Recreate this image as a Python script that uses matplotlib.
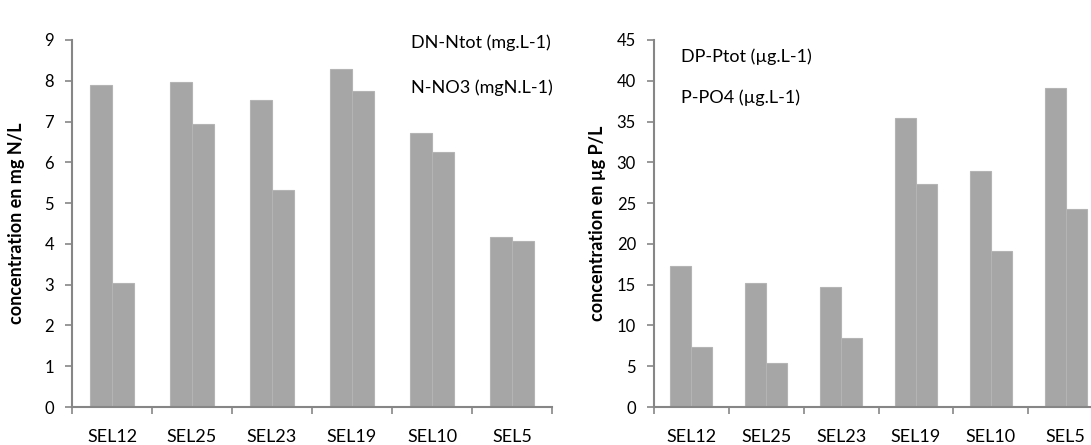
import matplotlib
matplotlib.use("Agg")
import matplotlib.pyplot as plt
import numpy as np

plt.rcParams['font.family'] = ['Lato', 'DejaVu Sans']

sites = ['SEL12', 'SEL25', 'SEL23', 'SEL19', 'SEL10', 'SEL5']

# nitrogen panel (mg/L)
dn_ntot = [7.9, 7.97, 7.53, 8.28, 6.71, 4.17]
n_no3 = [3.05, 6.93, 5.33, 7.75, 6.26, 4.06]

# phosphorus panel (ug/L)
dp_ptot = [17.3, 15.2, 14.7, 35.4, 28.95, 39.1]
p_po4 = [7.4, 5.4, 8.4, 27.3, 19.1, 24.3]

n_ticks = [0, 1, 2, 3, 4, 5, 6, 7, 8, 9]
p_ticks = [0, 5, 10, 15, 20, 25, 30, 35, 40, 45]

bar_col = '#a6a6a6'
axis_col = '#868686'

fig = plt.figure(figsize=(10.91, 4.45), dpi=100)
ax1 = fig.add_axes([72 / 1091, 38 / 445, 480 / 1091, 367 / 445])
ax2 = fig.add_axes([654 / 1091, 38 / 445, 449 / 1091, 367 / 445])


def draw_panel(ax, s1, s2, ticks, ylabel, lab1, lab2, leg_x, leg_y, lpad):
    x = np.arange(len(sites))
    w = 0.28
    ax.bar(x - w / 2, s1, w, color=bar_col, edgecolor='#b4b4b4', linewidth=0.8)
    ax.bar(x + w / 2, s2, w, color=bar_col, edgecolor='#b4b4b4', linewidth=0.8)
    ax.set_xlim(-0.5, len(sites) - 0.5)
    ax.set_ylim(0, ticks[-1])
    ax.set_yticks(ticks)
    ax.set_yticklabels([str(t) for t in ticks], fontsize=12)
    ax.set_xticks(x)
    ax.set_xticklabels(sites, fontsize=13)
    ax.set_xticks(np.arange(-0.5, len(sites)), minor=True)
    ax.tick_params(axis='x', which='major', length=0, pad=16)
    ax.tick_params(axis='x', which='minor', length=5, color=axis_col, width=1.2)
    ax.tick_params(axis='y', length=5, color=axis_col, width=1.2, pad=8)
    for side in ['top', 'right']:
        ax.spines[side].set_visible(False)
    for side in ['left', 'bottom']:
        ax.spines[side].set_color(axis_col)
        ax.spines[side].set_linewidth(1.5)
    ax.set_ylabel(ylabel, fontsize=13, fontweight='bold', labelpad=lpad)
    ax.text(leg_x, leg_y[0], lab1, transform=ax.transAxes, fontsize=13,
            va='center', ha='left')
    ax.text(leg_x, leg_y[1], lab2, transform=ax.transAxes, fontsize=13,
            va='center', ha='left')


draw_panel(ax1, dn_ntot, n_no3, n_ticks, 'concentration en mg N/L',
           'DN-Ntot (mg.L-1)', 'N-NO3 (mgN.L-1)', (411 - 72) / 480,
           [(407 - 43) / 367, (407 - 88) / 367], 14)
draw_panel(ax2, dp_ptot, p_po4, p_ticks, 'concentration en µg P/L',
           'DP-Ptot (µg.L-1)', 'P-PO4 (µg.L-1)', (681 - 654) / 449,
           [(407 - 57) / 367, (407 - 98) / 367], 8)

fig.savefig('out.png', dpi=100)
